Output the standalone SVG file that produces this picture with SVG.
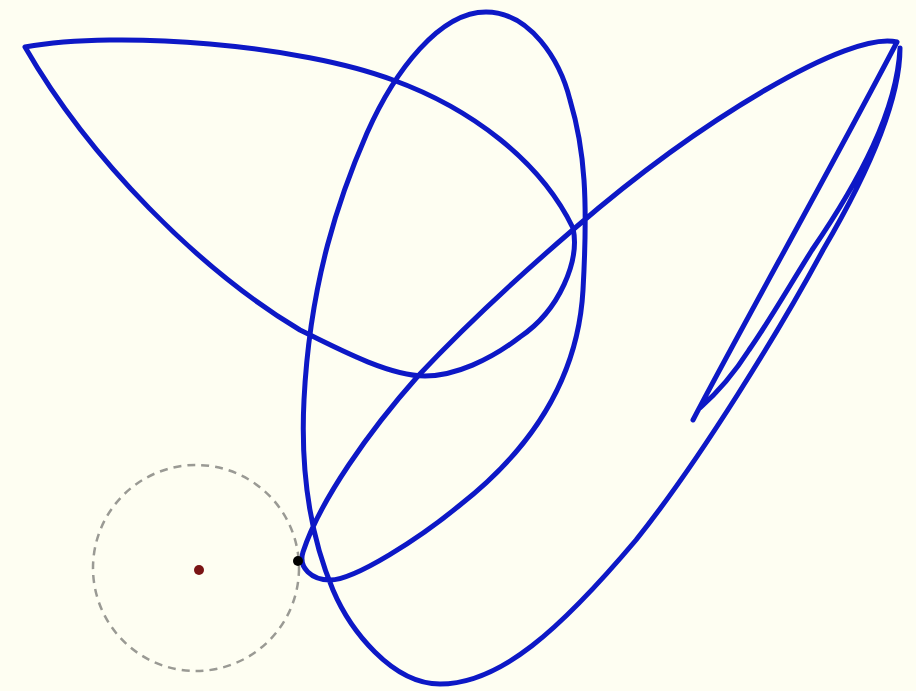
<svg xmlns="http://www.w3.org/2000/svg" width="916" height="691" viewBox="0 0 916 691">
<style>
.trace{fill:none;stroke:#0d18c6;stroke-width:5;stroke-linecap:round;stroke-linejoin:round}
.guide{fill:none;stroke:#9a9a94;stroke-width:2.5;stroke-dasharray:8 6}
</style>
<rect width="916" height="691" fill="#fefef2"/>
<g id="curve">
<path class="trace" d="M693,420 C740,330 830,170 897,42 C850,30 700,120 575,228 C540,258 480,310 418,376 C370,430 320,500 303,552 C298,568 312,580 330,580 C355,580 420,538 460,505 C530,450 578,380 583,290 C588,200 585,150 570,100 C560,60 530,12 486,12 C440,12 395,70 367,133 C340,195 310,280 304,400 C300,480 312,540 333,590 C350,630 392,684 440,684 C500,684 560,630 636,540 C700,460 780,330 823,250 C870,170 900,100 900,48 C897,110 860,180 812,250 C790,285 770,320 749,350 C735,372 718,392 700,408"/>
<path class="trace" d="M25,47 C120,30 300,45 393,80 C470,108 540,160 573,228 C580,260 560,310 520,337 C490,360 455,376 425,376 C390,376 340,350 300,330 C200,270 90,160 25,47 Z"/>
</g>
<g id="wheel">
<circle class="guide" cx="196" cy="568" r="103"/>
<circle cx="199" cy="570" r="5" fill="#7a1414"/>
<circle cx="298" cy="561" r="5" fill="#000"/>
</g>
</svg>
